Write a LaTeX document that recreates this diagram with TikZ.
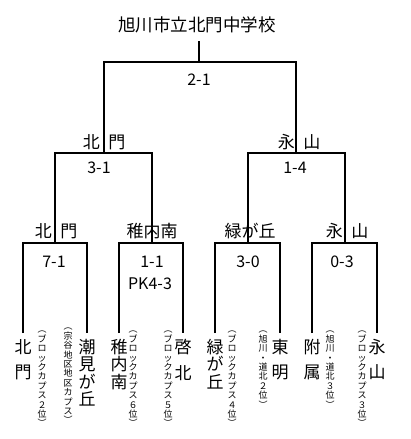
\documentclass[tikz,border=0pt]{standalone}
\usepackage{fontspec}
\newfontfamily\jp{Noto Sans CJK JP}
\tikzset{
  br/.style={draw=black, line width=1.1pt},
  title/.style={font=\jp\fontsize{17.5}{18}\selectfont, inner sep=0pt},
  lbl/.style={font=\jp\fontsize{17}{18}\selectfont, inner sep=0pt},
  score/.style={font=\jp\fontsize{16}{18}\selectfont, inner sep=0pt},
  vname/.style={font=\jp\fontsize{17}{17.5}\selectfont, inner sep=0pt, align=center, anchor=north},
  vsmall/.style={font=\jp\fontsize{9}{9.4}\selectfont, inner sep=0pt, align=center, anchor=north},
}
\begin{document}
\begin{tikzpicture}[x=1pt,y=-1pt]
\useasboundingbox[fill=white] (0,0) rectangle (410,439);
% coordinates of the bracket
\coordinate (t0) at (199,41);
\coordinate (t1) at (199,62);
\coordinate (tl) at (104,62);
\coordinate (tr) at (296,62);
\coordinate (l1) at (104,153);
\coordinate (r1) at (296,153);
\coordinate (l1a) at (55,153);
\coordinate (l1b) at (152,153);
\coordinate (r1a) at (248,153);
\coordinate (r1b) at (345,153);
\coordinate (a0) at (55,243);
\coordinate (b0) at (152,243);
\coordinate (c0) at (248,243);
\coordinate (d0) at (345,243);
\coordinate (a1) at (23,243);  \coordinate (a2) at (87,243);
\coordinate (b1) at (119,243); \coordinate (b2) at (183,243);
\coordinate (c1) at (215,243); \coordinate (c2) at (280,243);
\coordinate (d1) at (312,243); \coordinate (d2) at (377,243);
\coordinate (a1e) at (23,333);  \coordinate (a2e) at (87,333);
\coordinate (b1e) at (119,333); \coordinate (b2e) at (183,333);
\coordinate (c1e) at (215,333); \coordinate (c2e) at (280,333);
\coordinate (d1e) at (312,333); \coordinate (d2e) at (377,333);

\draw[br] (t0) -- (t1);
\draw[br] (l1) -- (tl) -- (tr) -- (r1);
\draw[br] (a0) -- (l1a) -- (l1b) -- (b0);
\draw[br] (c0) -- (r1a) -- (r1b) -- (d0);
\draw[br] (a1e) -- (a1) -- (a2) -- (a2e);
\draw[br] (b1e) -- (b1) -- (b2) -- (b2e);
\draw[br] (c1e) -- (c1) -- (c2) -- (c2e);
\draw[br] (d1e) -- (d1) -- (d2) -- (d2e);

% title and scores
\node[title] (title) at (197,25) {旭川市立北門中学校};
\node[score] (s0) at (199,80) {2-1};
\node[lbl] (w1) at (104,142) {北\hspace{0.5em}門};
\node[lbl] (w2) at (299,142) {永\hspace{0.5em}山};
\node[score] (s1) at (99,168) {3-1};
\node[score] (s2) at (295,168) {1-4};
\node[lbl] (w3) at (56,231) {北\hspace{0.5em}門};
\node[lbl] (w4) at (152,231) {稚内南};
\node[lbl] (w5) at (250,231) {緑が丘};
\node[lbl] (w6) at (347,231) {永\hspace{0.5em}山};
\node[score] (s3) at (54,262) {7-1};
\node[score] (s4) at (152,262) {1-1};
\node[score] (s4b) at (150,284) {PK4-3};
\node[score] (s5) at (248,262) {3-0};
\node[score] (s6) at (342,262) {0-3};

% team names (vertical)
\node[vname] (n1) at (23,339) {北\\[8pt]門};
\node[vname] (n2) at (87,339) {潮\\見\\が\\丘};
\node[vname] (n3) at (119,339) {稚\\内\\南};
\node[vname] (n4) at (183,339) {啓\\[8pt]北};
\node[vname] (n5) at (215,339) {緑\\が\\丘};
\node[vname] (n6) at (280,339) {東\\[8pt]明};
\node[vname] (n7) at (312,339) {附\\[8pt]属};
\node[vname] (n8) at (377,339) {永\\[8pt]山};

% small notes (vertical)
\node[vsmall] (m1) at (42,331) {︵\\ブ\\ロ\\ッ\\ク\\カ\\プ\\ス\\２\\位\\︶};
\node[vsmall] (m2) at (68,328) {︵\\宗\\谷\\地\\区\\地\\区\\カ\\プ\\ス\\︶};
\node[vsmall] (m3) at (133,331) {︵\\ブ\\ロ\\ッ\\ク\\カ\\プ\\ス\\６\\位\\︶};
\node[vsmall] (m4) at (168,331) {︵\\ブ\\ロ\\ッ\\ク\\カ\\プ\\ス\\５\\位\\︶};
\node[vsmall] (m5) at (232,331) {︵\\ブ\\ロ\\ッ\\ク\\カ\\プ\\ス\\４\\位\\︶};
\node[vsmall] (m6) at (263,331) {︵\\旭\\川\\・\\道\\北\\２\\位\\︶};
\node[vsmall] (m7) at (330,331) {︵\\旭\\川\\・\\道\\北\\３\\位\\︶};
\node[vsmall] (m8) at (362,331) {︵\\ブ\\ロ\\ッ\\ク\\カ\\プ\\ス\\３\\位\\︶};
\end{tikzpicture}
\end{document}
